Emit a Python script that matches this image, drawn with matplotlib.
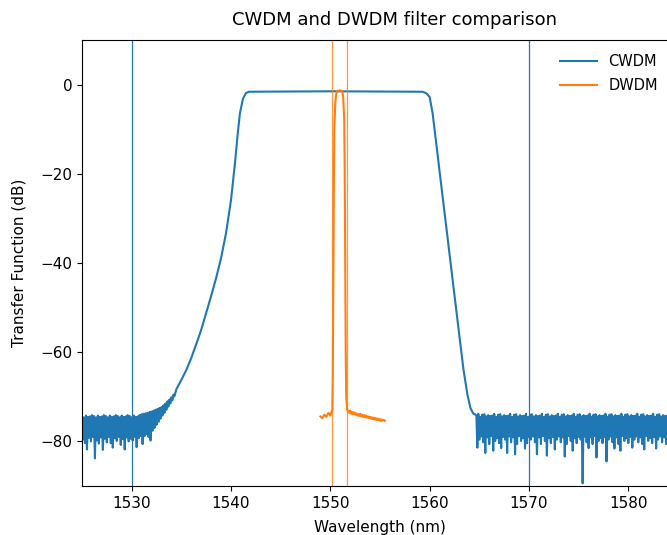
import numpy as np
import matplotlib; matplotlib.use('Agg')
import matplotlib.pyplot as plt

# CWDM filter: skirts and flat top (wavelength nm, transfer dB)
cwdm_edge_wl = [1534.5, 1535.0, 1535.5, 1536.0, 1536.5,
                1537.0, 1537.5, 1538.0, 1538.5, 1539.0, 1539.5, 1540.0, 1540.4,
                1540.7, 1540.9, 1541.2, 1541.5, 1541.8, 1550.0, 1559.3, 1559.7,
                1560.0, 1560.3, 1560.6, 1561.0, 1561.5, 1562.0, 1562.5, 1563.0,
                1563.4, 1563.8, 1564.1, 1564.4, 1564.6]
cwdm_edge_db = [-68.3, -66.2, -64.0, -61.3, -58.2,
                -55.0, -51.2, -47.4, -43.4, -38.9, -33.3, -25.9, -17.6,
                -10.5, -6.4, -3.2, -1.9, -1.6, -1.5, -1.6, -2.0,
                -2.8, -6.5, -12.0, -19.5, -28.8, -38.0, -47.3, -56.5,
                -63.8, -69.5, -72.5, -73.8, -74.0]

# CWDM noise floor, one sample every 0.1 nm
floor_step = 0.1
left_floor_start = 1525.0
left_floor_db = [
    -74.3, -79.6, -74.6, -80.4, -74.2, -81.8, -74.5, -79.2, -74.4, -80.0,
    -74.1, -79.0, -74.3, -83.8, -74.6, -79.8, -74.2, -80.5, -74.5, -79.1,
    -74.4, -81.9, -74.1, -79.4, -74.3, -80.2, -74.6, -79.0, -74.2, -80.4,
    -74.5, -81.4, -74.4, -79.3, -74.1, -79.9, -74.3, -79.0, -74.6, -80.8,
    -74.2, -79.5, -74.5, -81.8, -74.4, -79.1, -74.1, -80.0, -74.3, -79.4,
    -74.6, -79.8, -74.2, -79.0, -74.5, -81.3, -74.4, -79.3, -74.1, -78.8,
    -73.9, -80.6, -73.8, -78.8, -73.7, -78.4, -73.6, -79.0, -73.4, -79.8,
    -73.3, -77.6, -73.1, -77.0, -72.9, -76.3, -72.7, -75.6, -72.5, -74.9,
    -72.3, -74.2, -71.9, -73.6, -71.5, -72.9, -71.0, -72.2, -70.6, -71.5,
    -70.1, -70.8, -69.5, -69.9]
right_floor_start = 1564.7
right_floor_db = [
    -74.2, -81.4, -73.8, -79.6, -74.5, -78.9, -74.0, -80.2, -73.9, -82.6,
    -74.4, -79.1, -74.1, -80.6, -74.3, -78.8, -74.2, -82.1, -73.8, -79.9,
    -74.5, -79.3, -74.0, -80.4, -73.9, -81.5, -74.4, -79.0, -74.1, -79.6,
    -74.3, -82.6, -74.2, -78.9, -73.8, -80.2, -74.5, -79.1, -74.0, -82.9,
    -73.9, -80.6, -74.4, -78.8, -74.1, -79.9, -74.3, -79.3, -74.2, -81.6,
    -73.8, -80.4, -74.5, -79.0, -74.0, -79.6, -73.9, -78.9, -74.4, -80.2,
    -74.1, -82.9, -74.3, -79.1, -74.2, -80.6, -73.8, -78.8, -74.5, -79.9,
    -74.0, -83.2, -73.9, -79.3, -74.4, -80.4, -74.1, -79.0, -74.3, -81.8,
    -74.2, -79.6, -73.8, -78.9, -74.5, -80.2, -74.0, -79.1, -73.9, -83.4,
    -74.4, -80.6, -74.1, -78.8, -74.3, -79.9, -74.2, -82.1, -73.8, -79.3,
    -74.5, -80.4, -74.0, -79.0, -73.9, -79.6, -74.4, -89.4, -74.1, -78.9,
    -74.3, -80.2, -74.2, -81.5, -73.8, -79.1, -74.5, -80.6, -74.0, -78.8,
    -73.9, -83.6, -74.4, -79.9, -74.1, -79.3, -74.3, -80.4, -74.2, -79.0,
    -73.8, -84.5, -74.5, -79.6, -74.0, -78.9, -73.9, -80.2, -74.4, -81.6,
    -74.1, -79.1, -74.3, -80.6, -74.2, -82.1, -73.8, -78.8, -74.5, -79.9,
    -74.0, -79.3, -73.9, -80.4, -74.4, -79.0, -74.1, -81.4, -74.3, -79.6,
    -74.2, -78.9, -73.8, -80.2, -74.5, -79.1, -74.0, -80.6, -73.9, -81.8,
    -74.4, -78.8, -74.1, -79.9, -74.3, -79.3, -74.2, -80.4, -73.8, -79.0,
    -74.5, -81.6, -74.0, -79.6, -73.9, -78.9, -74.4, -80.2, -74.1, -79.1,
    -74.3, -80.6, -74.2, -81.5, -73.8, -78.8, -74.5, -79.9, -74.0, -79.3,
    -73.9, -80.4, -74.4, -79.0]

# DWDM filter: floor, peak and tail
dwdm_wl = [1549.0, 1549.2, 1549.4, 1549.6, 1549.8, 1550.0, 1550.1, 1550.2,
           1550.25, 1550.3, 1550.35, 1550.4, 1550.5, 1550.6, 1550.7, 1550.95,
           1551.2, 1551.3, 1551.4, 1551.45, 1551.5, 1551.55, 1551.6, 1551.7]
dwdm_db = [-74.4, -74.8, -74.0, -74.5, -73.6, -74.2, -73.5, -73.0,
           -65.0, -45.0, -25.0, -10.0, -4.0, -2.0, -1.4, -1.3,
           -1.4, -3.0, -8.0, -20.0, -40.0, -60.0, -70.0, -73.0]
dwdm_tail_start = 1551.8
dwdm_tail_step = 0.1
dwdm_tail_db = [-73.2, -73.6, -73.1, -73.8, -73.4, -73.9, -73.5, -74.0, -73.7, -74.2,
                -73.9, -74.3, -73.8, -74.4, -74.0, -74.5, -74.1, -74.6, -74.2, -74.7,
                -74.4, -74.8, -74.5, -74.9, -74.6, -75.0, -74.7, -75.1, -74.8, -75.2,
                -74.9, -75.3, -75.0, -75.4, -75.1, -75.3, -75.2, -75.4]

# channel band edges
cwdm_band = [1530, 1570]
dwdm_band = [1550.2, 1551.65]

left_wl = left_floor_start + floor_step * np.arange(len(left_floor_db))
right_wl = right_floor_start + floor_step * np.arange(len(right_floor_db))
cwdm_wl = np.concatenate([left_wl, cwdm_edge_wl, right_wl])
cwdm_db = np.concatenate([left_floor_db, cwdm_edge_db, right_floor_db])

tail_wl = dwdm_tail_start + dwdm_tail_step * np.arange(len(dwdm_tail_db))
dwdm_all_wl = np.concatenate([dwdm_wl, tail_wl])
dwdm_all_db = np.concatenate([dwdm_db, dwdm_tail_db])

fig = plt.figure(figsize=(6.67, 5.35), dpi=100)
# axes run past the right edge, as in the cropped original
ax = fig.add_axes([82 / 667, 49 / 535, 596 / 667, 446 / 535])

ax.plot(cwdm_wl, cwdm_db, color='C0', lw=1.5, label='CWDM')
ax.plot(dwdm_all_wl, dwdm_all_db, color='C1', lw=1.5, label='DWDM')
for wl in cwdm_band:
    ax.axvline(wl, color='C0', lw=0.9)
for wl in dwdm_band:
    ax.axvline(wl, color='C1', lw=0.9, alpha=0.8)

ax.set_xlim(1525, 1585)
ax.set_ylim(-90, 10)
ax.set_title('CWDM and DWDM filter comparison', fontsize=13, pad=11, x=0.525)
ax.set_xlabel('Wavelength (nm)', fontsize=11, labelpad=7)
ax.set_ylabel('Transfer Function (dB)', fontsize=11, labelpad=9.5)
ax.tick_params(labelsize=11)
ax.legend(loc='upper right', bbox_to_anchor=(0.988, 0.997), frameon=False,
          fontsize=10.5, handlelength=2.5, labelspacing=0.6)

fig.savefig('out.png', dpi=100)
